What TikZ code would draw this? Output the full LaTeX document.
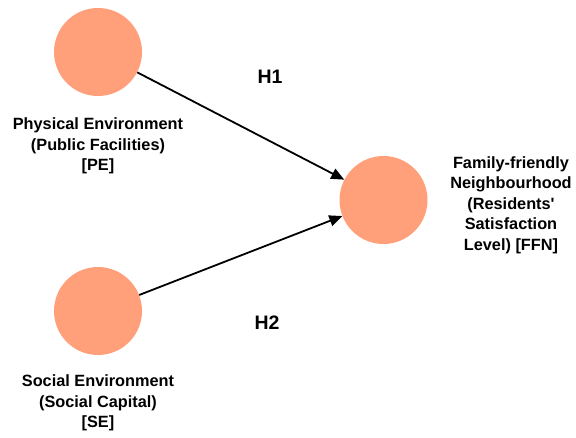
\documentclass[tikz,border=0pt]{standalone}
\usepackage{fontspec}
\setmainfont{Liberation Sans}
\usetikzlibrary{arrows.meta}
\definecolor{salmon}{RGB}{255,160,122}
\begin{document}
\begin{tikzpicture}[x=1pt,y=-1pt,
  construct/.style={circle,fill=salmon,draw=none,minimum size=88pt,inner sep=0pt},
  lbl/.style={align=center,inner sep=0pt,font=\bfseries\fontsize{16.3}{20.5}\selectfont},
  hyp/.style={inner sep=0pt,font=\bfseries\fontsize{19.5}{22}\selectfont},
  path/.style={line width=1.8pt,-{Triangle[length=13pt,width=11pt]}}]
\useasboundingbox (0,0) rectangle (576,437);
\node[construct] (PE) at (98,52) {};
\node[construct] (SE) at (98,311) {};
\node[construct] (FFN) at (383.5,200) {};
\node[lbl] (PEl) at (98,146) {Physical Environment\\(Public Facilities)\\{}[PE]};
\node[lbl] (SEl) at (98,403) {Social Environment\\(Social Capital)\\{}[SE]};
\node[lbl] (FFNl) at (511,205) {Family-friendly\\Neighbourhood\\(Residents\textquotesingle\\Satisfaction\\Level) [FFN]};
\node[hyp] (H1) at (270,77) {H1};
\node[hyp] (H2) at (267,323) {H2};
\draw[path] (PE) -- (FFN);
\draw[path] (SE) -- (FFN);
\end{tikzpicture}
\end{document}
